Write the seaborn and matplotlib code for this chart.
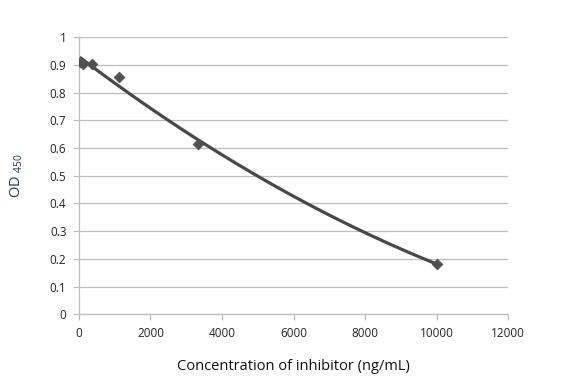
import matplotlib
matplotlib.use("Agg")
import matplotlib.pyplot as plt
import numpy as np
import pandas as pd
import seaborn as sns

# inhibitor concentrations (ng/mL) and measured OD450
concentration = [41, 123, 370, 1111, 3333, 10000]
od450 = [0.910, 0.905, 0.905, 0.856, 0.615, 0.183]

x_ticks = [0, 2000, 4000, 6000, 8000, 10000, 12000]
y_ticks = [0, 0.1, 0.2, 0.3, 0.4, 0.5, 0.6, 0.7, 0.8, 0.9, 1]

df = pd.DataFrame({'conc': concentration, 'od': od450})

sns.set_theme(style="white")
plt.rcParams['font.family'] = ['Open Sans', 'DejaVu Sans']
plt.rcParams['mathtext.fontset'] = 'custom'
plt.rcParams['mathtext.rm'] = 'Open Sans'
plt.rcParams['mathtext.default'] = 'regular'

fig = plt.figure(figsize=(5.82, 3.82), dpi=100)
ax = fig.add_axes([0.1357, 0.1772, 0.8729 - 0.1357, 0.9024 - 0.1772])

# 2nd order polynomial trendline + points
sns.regplot(data=df, x='conc', y='od', order=2, ci=None, ax=ax,
            marker='D', color='#4a4a4a',
            scatter_kws={'s': 30, 'color': '#505050', 'edgecolor': '#505050',
                         'linewidths': 0.5, 'alpha': 1, 'zorder': 3},
            line_kws={'color': '#484848', 'linewidth': 2.3, 'zorder': 2})

ax.set_xlim(0, 12000)
ax.set_ylim(0, 1)
ax.set_xticks(x_ticks)
ax.set_yticks(y_ticks)
ax.set_xticklabels([str(t) for t in x_ticks])
ax.set_yticklabels([f'{t:g}' for t in y_ticks])

ax.grid(axis='y', color='#bfbfbf', linewidth=0.9)
ax.set_axisbelow(True)
for side in ['top', 'right']:
    ax.spines[side].set_visible(False)
for side in ['left', 'bottom']:
    ax.spines[side].set_color('#bfbfbf')
    ax.spines[side].set_linewidth(0.9)

ax.tick_params(axis='both', which='major', length=4, width=0.9,
               color='#bfbfbf', labelsize=8.5, labelcolor='#262626',
               direction='out', bottom=True, left=True)
ax.tick_params(axis='x', pad=5)
ax.tick_params(axis='y', pad=5)

ax.set_xlabel('Concentration of inhibitor (ng/mL)', fontsize=10.5,
              color='#111111', labelpad=14)
ax.set_ylabel('OD $_{450}$', fontsize=10.5, color='#1f3864', labelpad=18)

fig.savefig('out.png', dpi=100)
